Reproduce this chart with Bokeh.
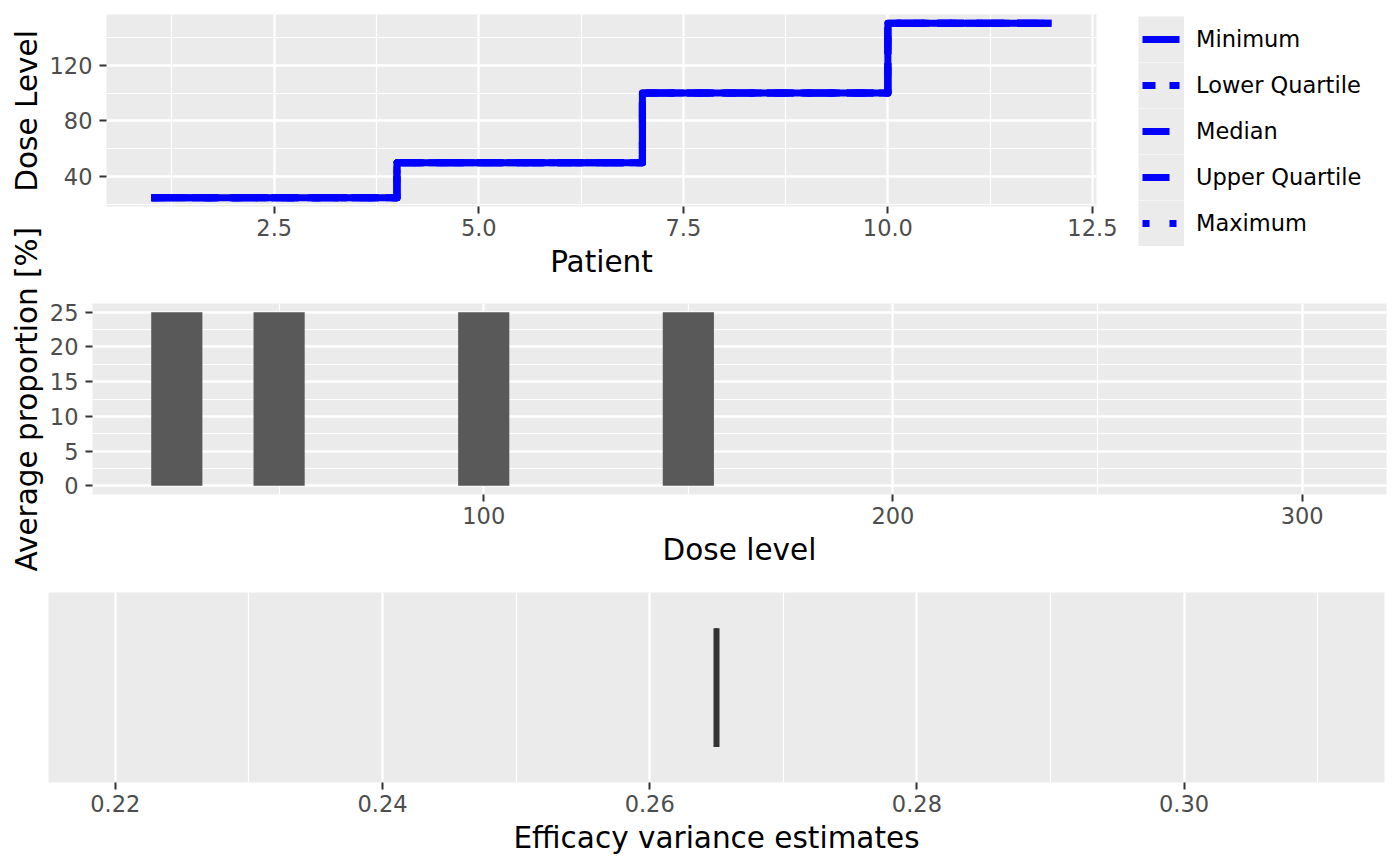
import math
import numpy as np
from bokeh.plotting import figure
from bokeh.layouts import column, row
from bokeh.models import FixedTicker, Range1d, Legend, LegendItem, Label
from bokeh.embed import file_html
from bokeh.resources import INLINE

# ---------------- data ----------------
patients = [1, 2, 3, 4, 5, 6, 7, 8, 9, 10, 11, 12]
dose_minimum = [25, 25, 25, 50, 50, 50, 100, 100, 100, 150, 150, 150]
dose_lower_quartile = [25, 25, 25, 50, 50, 50, 100, 100, 100, 150, 150, 150]
dose_median = [25, 25, 25, 50, 50, 50, 100, 100, 100, 150, 150, 150]
dose_upper_quartile = [25, 25, 25, 50, 50, 50, 100, 100, 100, 150, 150, 150]
dose_maximum = [25, 25, 25, 50, 50, 50, 100, 100, 100, 150, 150, 150]
stat_labels = ["Minimum", "Lower Quartile", "Median", "Upper Quartile", "Maximum"]

dose_levels = [25, 50, 100, 150]
avg_proportion = [25, 25, 25, 25]

efficacy_variance = [0.265]

top_x_ticks = [2.5, 5.0, 7.5, 10.0, 12.5]
top_x_labels = ["2.5", "5.0", "7.5", "10.0", "12.5"]
top_x_minor = [1.25, 3.75, 6.25, 8.75, 11.25]
top_y_ticks = [40, 80, 120]
top_y_labels = ["40", "80", "120"]
top_y_minor = [20, 60, 100, 140]

mid_x_ticks = [100, 200, 300]
mid_x_labels = ["100", "200", "300"]
mid_x_minor = [50, 150, 250]
mid_y_ticks = [0, 5, 10, 15, 20, 25]
mid_y_labels = ["0", "5", "10", "15", "20", "25"]
mid_y_minor = [2.5, 7.5, 12.5, 17.5, 22.5]

bot_x_ticks = [0.22, 0.24, 0.26, 0.28, 0.30]
bot_x_labels = ["0.22", "0.24", "0.26", "0.28", "0.30"]
bot_x_minor = [0.23, 0.25, 0.27, 0.29, 0.31]

# ---------------- styling ----------------
FONT = "DejaVu Sans"
BLUE = "#0000FF"
TITLE_SIZE = "29.5px"
TICK_SIZE = "22.5px"
TOTAL_H = 858
LINE_W = 7
KEY = 46


def style(p):
    p.background_fill_color = "#EBEBEB"
    p.border_fill_color = "white"
    p.outline_line_color = None
    for ax in p.axis:
        ax.axis_line_color = None
        ax.major_tick_line_color = "#333333"
        ax.major_tick_line_width = 2
        ax.major_tick_in = 0
        ax.major_tick_out = 7
        ax.minor_tick_line_color = None
        ax.major_label_standoff = 5
        ax.major_label_text_font = FONT
        ax.major_label_text_font_size = TICK_SIZE
        ax.major_label_text_color = "#4D4D4D"
        ax.axis_label_text_font = FONT
        ax.axis_label_text_font_size = TITLE_SIZE
        ax.axis_label_text_font_style = "normal"
        ax.axis_label_text_color = "black"
        ax.axis_label_standoff = 6
    for ax in p.yaxis:
        ax.major_label_standoff = 7
    for g in p.grid:
        g.grid_line_color = "white"
        g.grid_line_width = 2.4
        g.minor_grid_line_color = "white"
        g.minor_grid_line_width = 1.2


def set_ticks(axis, ticks, labels, minor):
    axis.ticker = FixedTicker(ticks=ticks, minor_ticks=minor)
    axis.major_label_overrides = {t: l for t, l in zip(ticks, labels)}


def expand(lo, hi, f=0.05):
    d = (hi - lo) * f
    return lo - d, hi + d


# ---------------- left strip with the y-axis titles ----------------
ptitle = figure(width=46, height=TOTAL_H, x_range=Range1d(0, 46),
                y_range=Range1d(0, TOTAL_H), min_border=0,
                output_backend="svg", toolbar_location=None)
ptitle.axis.visible = False
ptitle.grid.visible = False
ptitle.outline_line_color = None
ptitle.background_fill_color = "white"
for txt, cy in [("Dose Level", TOTAL_H - 110.4),
                ("Average proportion [%]", TOTAL_H - 398.7)]:
    ptitle.add_layout(Label(x=26.5, y=cy, x_units="screen", y_units="screen",
                            text=txt, angle=math.pi / 2, text_align="center",
                            text_baseline="middle", text_font=FONT,
                            text_font_size=TITLE_SIZE, text_color="black"))

# ---------------- top: dose level by patient ----------------
xr = expand(min(patients), max(patients))
all_doses = dose_minimum + dose_maximum
yr = expand(min(all_doses), max(all_doses))
p1 = figure(frame_width=990, frame_height=192,
            min_border_left=60, min_border_right=304,
            min_border_top=14, min_border_bottom=77,
            x_range=Range1d(*xr), y_range=Range1d(*yr),
            output_backend="svg", toolbar_location=None)

series = [dose_minimum, dose_lower_quartile, dose_median,
          dose_upper_quartile, dose_maximum]
# line types: solid, dashed, longdash, longdash, dotted
plot_dashes = ["solid", "13 13", "27 13", "27 13", "7 20"]
# the same line types as they appear inside the 46 px legend key
key_dashes = ["0 4 37 100", "0 4 13 14 10 100", "0 4 27 100",
              "0 4 27 100", "0 4 7 20 7 100"]
for ys, dash in zip(series, plot_dashes):
    p1.step(patients, ys, mode="after", line_color=BLUE, line_width=LINE_W,
            line_dash=dash, line_join="round")

# legend key glyphs (placeholder rows without position: they draw nothing in the plot)
key_bg = p1.quad(left=[np.nan], right=[np.nan], top=[np.nan], bottom=[np.nan],
                 fill_color="#EBEBEB", line_color="#EBEBEB",
                 line_width=0.2 * KEY, line_join="miter")
key_lines = [p1.line(x=[np.nan], y=[np.nan], line_color=BLUE,
                     line_width=LINE_W, line_dash=d) for d in key_dashes]

items = [LegendItem(label=lab, renderers=[key_bg, r])
         for lab, r in zip(stat_labels, key_lines)]
legend = Legend(items=items, location=(42, -40), orientation="vertical",
                glyph_width=KEY, glyph_height=KEY, spacing=0, padding=0,
                margin=0, label_standoff=12,
                background_fill_alpha=0, border_line_color=None,
                label_text_font=FONT, label_text_font_size=TICK_SIZE,
                label_text_color="black")
p1.add_layout(legend, "right")

p1.xaxis.axis_label = "Patient"
style(p1)
set_ticks(p1.xaxis[0], top_x_ticks, top_x_labels, top_x_minor)
set_ticks(p1.yaxis[0], top_y_ticks, top_y_labels, top_y_minor)

# ---------------- middle: average proportion per dose ----------------
p2 = figure(frame_width=1294, frame_height=191,
            min_border_left=45, min_border_right=15,
            min_border_top=20, min_border_bottom=81,
            x_range=Range1d(4.4, 320.6),
            y_range=Range1d(*expand(0, max(avg_proportion))),
            output_backend="svg", toolbar_location=None)
p2.vbar(x=dose_levels, top=avg_proportion, width=12.5,
        fill_color="#595959", line_color=None)
p2.xaxis.axis_label = "Dose level"
style(p2)
set_ticks(p2.xaxis[0], mid_x_ticks, mid_x_labels, mid_x_minor)
set_ticks(p2.yaxis[0], mid_y_ticks, mid_y_labels, mid_y_minor)

# ---------------- bottom: efficacy variance boxplot ----------------
q = np.percentile(efficacy_variance, [0, 25, 50, 75, 100])
center = float(q[2])
p3 = figure(frame_width=1336, frame_height=190,
            min_border_left=2, min_border_right=16,
            min_border_top=17, min_border_bottom=76,
            x_range=Range1d(center - 0.05, center + 0.05),
            y_range=Range1d(-0.6, 0.6),
            output_backend="svg", toolbar_location=None)
p3.segment(x0=[q[0], q[3]], x1=[q[1], q[4]], y0=[0, 0], y1=[0, 0],
           line_color="#333333", line_width=3)
p3.hbar(y=[0], left=[q[1]], right=[q[3]], height=0.75,
        fill_color="white", line_color="#333333", line_width=3)
p3.segment(x0=[q[2]], x1=[q[2]], y0=[-0.375], y1=[0.375],
           line_color="#333333", line_width=6)
p3.xaxis.axis_label = "Efficacy variance estimates"
style(p3)
set_ticks(p3.xaxis[0], bot_x_ticks, bot_x_labels, bot_x_minor)
p3.yaxis.visible = False
p3.ygrid.visible = False

layout = row(ptitle, column(row(p1), row(p2), row(p3), spacing=0), spacing=0)
open("out.html", "w").write(file_html(layout, INLINE))
